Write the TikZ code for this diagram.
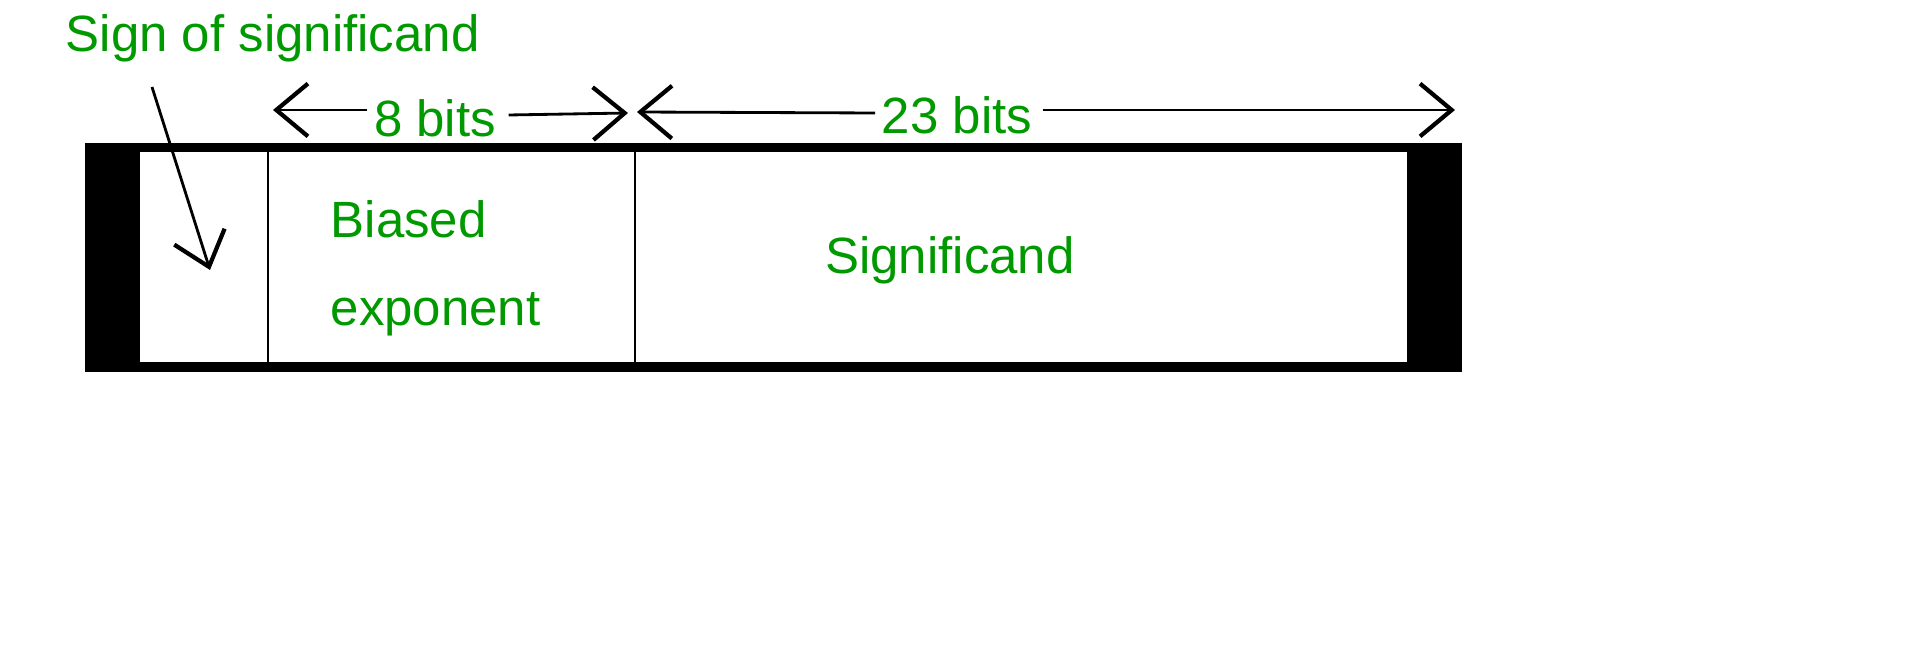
\documentclass[tikz,border=0pt]{standalone}
\usepackage{fontspec}
\setmainfont{Liberation Sans}
\usetikzlibrary{arrows.meta}
\definecolor{xgreen}{HTML}{009900}
\tikzset{
	greentext/.style = {text=xgreen, font=\fontsize{14.5}{18}\selectfont, inner sep=0pt},
	pointer/.style = {thick, -{Straight Barb[length=9pt,width=15pt,line width=1.2pt]}},
}
\begin{document}
\begin{tikzpicture}[x=0.01cm, y=-0.01cm]
			% word frame
			\fill[black] (85,143) rectangle (1462,372);
			\fill[white] (140,152) rectangle (1407,362);
			\draw[thick] (268,152) -- (268,362);
			\draw[thick] (635,152) -- (635,362);
			% labels
			\node[greentext, anchor=west] (sign) at (65,38) {Sign of significand};
			\node[greentext] (eight) at (435,118) {8 bits};
			\node[greentext] (twentythree) at (957,115) {23 bits};
			\node[greentext, anchor=west, align=left] (exp) at (330,268) {Biased\\[7pt]exponent};
			\node[greentext] (sig) at (950,260) {Significand};
			% arrows
			\coordinate (signtail) at (152,87);
			\coordinate (signhead) at (210,270);
			\coordinate (eightl) at (273,110);
			\coordinate (eightr) at (628,113);
			\coordinate (twl) at (637,112);
			\coordinate (twr) at (1455,110);
			\draw[pointer] (signtail) -- (signhead);
			\draw[pointer] (eight.west) ++(-6,-8) -- (eightl);
			\draw[pointer] (eight.east) ++(12,-3) -- (eightr);
			\draw[pointer] (twentythree.west) ++(-6,-2) -- (twl);
			\draw[pointer] (twentythree.east) ++(10,-5) -- (twr);
			\pgfresetboundingbox
			\useasboundingbox (0,0) rectangle (1920,652);
		\end{tikzpicture}
\end{document}
